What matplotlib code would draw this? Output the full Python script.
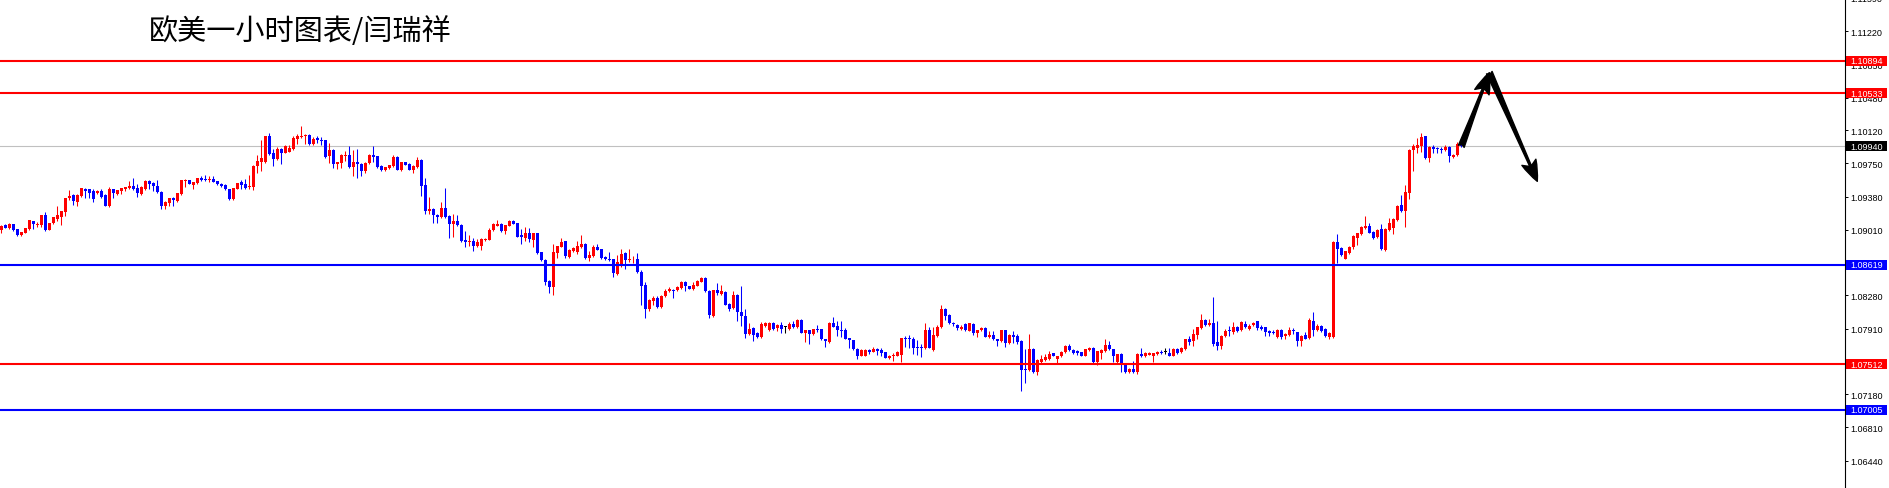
import matplotlib
matplotlib.use('Agg')
import matplotlib.pyplot as plt
import matplotlib.transforms as mtransforms
from matplotlib.patches import Rectangle
import numpy as np

title = '欧美一小时图表/闫瑞祥'

opens = [
1.0901,1.0906,1.0903,1.0907,1.0902,1.0895,1.0898,1.0902,1.0911,1.0906,
1.0906,1.0918,1.0901,1.0909,1.0913,1.0915,1.0921,1.0936,1.0940,1.0932,
1.0939,1.0947,1.0946,1.0944,1.0942,1.0944,1.0940,1.0927,1.0946,1.0941,
1.0944,1.0946,1.0948,1.0950,1.0948,1.0941,1.0946,1.0955,1.0953,1.0950,
1.0943,1.0927,1.0931,1.0937,1.0933,1.0941,1.0955,1.0957,1.0951,1.0953,
1.0959,1.0958,1.0957,1.0958,1.0955,1.0952,1.0951,1.0946,1.0935,1.0947,
1.0954,1.0952,1.0949,1.0949,1.0972,1.0977,1.0976,1.1005,1.0987,1.0980,
1.0991,1.0987,1.0988,1.0991,1.1002,1.1004,1.1005,1.1007,1.0997,1.1003,
1.1001,1.1001,1.0983,1.0990,1.0974,1.0975,1.0983,1.0984,1.0971,1.0976,
1.0974,1.0966,1.0975,1.0984,1.0983,1.0972,1.0968,1.0970,1.0972,1.0982,
1.0968,1.0976,1.0974,1.0968,1.0971,1.0979,1.0951,1.0922,1.0924,1.0918,
1.0915,1.0925,1.0916,1.0908,1.0911,1.0906,1.0890,1.0888,1.0889,1.0883,
1.0883,1.0890,1.0890,1.0901,1.0905,1.0908,1.0900,1.0905,1.0911,1.0909,
1.0895,1.0892,1.0897,1.0890,1.0898,1.0876,1.0867,1.0844,1.0837,1.0875,
1.0882,1.0889,1.0871,1.0878,1.0876,1.0882,1.0885,1.0870,1.0872,1.0882,
1.0880,1.0871,1.0868,1.0868,1.0852,1.0861,1.0875,1.0867,1.0868,1.0869,
1.0854,1.0840,1.0813,1.0822,1.0825,1.0815,1.0827,1.0833,1.0834,1.0834,
1.0836,1.0843,1.0838,1.0835,1.0839,1.0843,1.0847,1.0833,1.0805,1.0834,
1.0830,1.0832,1.0819,1.0814,1.0829,1.0809,1.0805,1.0785,1.0792,1.0786,
1.0782,1.0794,1.0790,1.0797,1.0792,1.0795,1.0793,1.0791,1.0796,1.0793,
1.0801,1.0786,1.0790,1.0785,1.0791,1.0791,1.0780,1.0776,1.0797,1.0794,
1.0790,1.0789,1.0781,1.0778,1.0768,1.0761,1.0761,1.0767,1.0765,1.0768,
1.0767,1.0765,1.0758,1.0760,1.0761,1.0762,1.0781,1.0780,1.0780,1.0771,
1.0771,1.0769,1.0790,1.0767,1.0783,1.0793,1.0813,1.0806,1.0797,1.0795,
1.0791,1.0796,1.0788,1.0796,1.0786,1.0789,1.0792,1.0782,1.0784,1.0780,
1.0777,1.0790,1.0775,1.0784,1.0783,1.0777,1.0746,1.0745,1.0768,1.0743,
1.0754,1.0756,1.0757,1.0764,1.0757,1.0760,1.0765,1.0772,1.0767,1.0766,
1.0765,1.0761,1.0767,1.0770,1.0754,1.0764,1.0766,1.0773,1.0768,1.0754,
1.0763,1.0752,1.0743,1.0746,1.0743,1.0763,1.0760,1.0762,1.0760,1.0763,
1.0765,1.0765,1.0764,1.0760,1.0768,1.0765,1.0768,1.0780,1.0777,1.0784,
1.0792,1.0801,1.0795,1.0797,1.0776,1.0772,1.0783,1.0789,1.0787,1.0793,
1.0789,1.0796,1.0791,1.0795,1.0799,1.0793,1.0793,1.0788,1.0787,1.0782,
1.0790,1.0783,1.0784,1.0790,1.0787,1.0777,1.0784,1.0781,1.0800,1.0789,
1.0794,1.0791,1.0782,1.0782,1.0887,1.0881,1.0869,1.0875,1.0882,1.0892,
1.0896,1.0903,1.0905,1.0899,1.0893,1.0902,1.0879,1.0901,1.0903,1.0912,
1.0929,1.0922,1.0942,1.0990,1.0992,1.0994,1.1005,1.0981,1.0993,1.0992,
1.0991,1.0990,1.0993,1.0982,1.0984,1.0997]

highs = [
1.0906,1.0907,1.0909,1.0908,1.0902,1.0899,1.0903,1.0912,1.0911,1.0910,
1.0918,1.0921,1.0909,1.0915,1.0927,1.0922,1.0937,1.0945,1.0941,1.0941,
1.0948,1.0948,1.0947,1.0947,1.0945,1.0947,1.0941,1.0949,1.0947,1.0945,
1.0948,1.0949,1.0955,1.0959,1.0952,1.0950,1.0957,1.0956,1.0954,1.0956,
1.0944,1.0933,1.0937,1.0938,1.0942,1.0956,1.0958,1.0957,1.0954,1.0959,
1.0961,1.0962,1.0961,1.0961,1.0955,1.0953,1.0952,1.0947,1.0948,1.0953,
1.0957,1.0958,1.0962,1.0973,1.0984,1.1001,1.1006,1.1009,1.0991,1.0993,
1.0992,1.0996,1.0996,1.1005,1.1008,1.1017,1.1008,1.1008,1.1004,1.1005,
1.1004,1.1001,1.0998,1.0991,1.0977,1.0985,1.0989,1.0994,1.0990,1.0991,
1.0975,1.0976,1.0985,1.0994,1.0983,1.0973,1.0971,1.0973,1.0984,1.0983,
1.0977,1.0977,1.0975,1.0973,1.0982,1.0980,1.0959,1.0938,1.0925,1.0919,
1.0932,1.0948,1.0917,1.0919,1.0917,1.0907,1.0900,1.0895,1.0892,1.0891,
1.0892,1.0892,1.0903,1.0909,1.0912,1.0909,1.0906,1.0912,1.0912,1.0909,
1.0902,1.0904,1.0903,1.0897,1.0898,1.0876,1.0869,1.0845,1.0885,1.0883,
1.0892,1.0889,1.0880,1.0882,1.0889,1.0895,1.0886,1.0878,1.0884,1.0885,
1.0880,1.0872,1.0876,1.0869,1.0873,1.0880,1.0876,1.0880,1.0872,1.0875,
1.0856,1.0843,1.0824,1.0827,1.0827,1.0828,1.0835,1.0837,1.0835,1.0838,
1.0844,1.0844,1.0839,1.0843,1.0845,1.0848,1.0848,1.0834,1.0834,1.0842,
1.0840,1.0833,1.0820,1.0833,1.0830,1.0839,1.0813,1.0797,1.0793,1.0787,
1.0798,1.0798,1.0798,1.0798,1.0796,1.0798,1.0794,1.0798,1.0799,1.0802,
1.0802,1.0790,1.0790,1.0791,1.0795,1.0791,1.0780,1.0798,1.0804,1.0799,
1.0800,1.0792,1.0781,1.0778,1.0769,1.0768,1.0768,1.0768,1.0771,1.0770,
1.0770,1.0765,1.0762,1.0764,1.0766,1.0781,1.0783,1.0784,1.0782,1.0778,
1.0774,1.0797,1.0793,1.0793,1.0795,1.0817,1.0814,1.0807,1.0798,1.0796,
1.0795,1.0797,1.0797,1.0797,1.0790,1.0793,1.0793,1.0788,1.0788,1.0780,
1.0790,1.0790,1.0785,1.0788,1.0785,1.0778,1.0768,1.0785,1.0770,1.0757,
1.0762,1.0763,1.0766,1.0764,1.0761,1.0766,1.0773,1.0774,1.0768,1.0767,
1.0765,1.0768,1.0771,1.0771,1.0766,1.0768,1.0779,1.0777,1.0768,1.0763,
1.0764,1.0752,1.0747,1.0755,1.0764,1.0770,1.0765,1.0765,1.0764,1.0766,
1.0767,1.0769,1.0769,1.0769,1.0770,1.0771,1.0780,1.0783,1.0791,1.0793,
1.0807,1.0802,1.0802,1.0826,1.0799,1.0784,1.0791,1.0794,1.0798,1.0794,
1.0799,1.0799,1.0796,1.0798,1.0800,1.0795,1.0793,1.0790,1.0790,1.0791,
1.0791,1.0786,1.0793,1.0792,1.0787,1.0784,1.0787,1.0803,1.0809,1.0796,
1.0795,1.0792,1.0787,1.0889,1.0896,1.0882,1.0878,1.0883,1.0895,1.0898,
1.0905,1.0916,1.0909,1.0900,1.0902,1.0908,1.0903,1.0914,1.0914,1.0929,
1.0940,1.0951,1.0991,1.0997,1.1003,1.1009,1.1006,1.0994,1.0996,1.0993,
1.0993,1.0996,1.0994,1.0985,1.0999,1.0998]

lows = [
1.0898,1.0903,1.0902,1.0900,1.0894,1.0894,1.0897,1.0901,1.0902,1.0904,
1.0904,1.0900,1.0901,1.0908,1.0911,1.0906,1.0916,1.0934,1.0929,1.0927,
1.0938,1.0937,1.0937,1.0932,1.0941,1.0936,1.0927,1.0926,1.0937,1.0940,
1.0941,1.0944,1.0946,1.0945,1.0938,1.0940,1.0945,1.0946,1.0944,1.0942,
1.0924,1.0924,1.0928,1.0928,1.0932,1.0940,1.0949,1.0952,1.0947,1.0952,
1.0955,1.0955,1.0954,1.0954,1.0951,1.0949,1.0945,1.0934,1.0934,1.0946,
1.0947,1.0947,1.0946,1.0945,1.0964,1.0967,1.0975,1.0984,1.0972,1.0979,
1.0974,1.0986,1.0988,1.0990,1.0997,1.1003,1.0997,1.0996,1.0996,1.0998,
1.0995,1.0981,1.0975,1.0970,1.0969,1.0970,1.0978,1.0970,1.0961,1.0959,
1.0961,1.0964,1.0974,1.0976,1.0970,1.0967,1.0967,1.0969,1.0971,1.0968,
1.0966,1.0973,1.0968,1.0964,1.0970,1.0939,1.0919,1.0919,1.0909,1.0909,
1.0914,1.0914,1.0892,1.0893,1.0905,1.0887,1.0882,1.0883,1.0878,1.0882,
1.0879,1.0889,1.0890,1.0900,1.0905,1.0899,1.0896,1.0905,1.0907,1.0893,
1.0885,1.0889,1.0887,1.0882,1.0874,1.0866,1.0840,1.0831,1.0828,1.0870,
1.0882,1.0870,1.0870,1.0876,1.0874,1.0881,1.0869,1.0866,1.0871,1.0879,
1.0869,1.0867,1.0866,1.0849,1.0851,1.0860,1.0857,1.0865,1.0864,1.0853,
1.0817,1.0803,1.0811,1.0817,1.0814,1.0814,1.0826,1.0832,1.0825,1.0833,
1.0835,1.0833,1.0835,1.0834,1.0839,1.0843,1.0832,1.0803,1.0804,1.0828,
1.0828,1.0817,1.0811,1.0813,1.0800,1.0794,1.0781,1.0784,1.0777,1.0781,
1.0781,1.0793,1.0788,1.0790,1.0788,1.0786,1.0786,1.0790,1.0792,1.0792,
1.0786,1.0776,1.0774,1.0784,1.0787,1.0778,1.0771,1.0775,1.0793,1.0783,
1.0782,1.0780,1.0770,1.0767,1.0757,1.0760,1.0760,1.0763,1.0765,1.0762,
1.0761,1.0758,1.0757,1.0755,1.0760,1.0754,1.0771,1.0770,1.0763,1.0762,
1.0759,1.0768,1.0769,1.0766,1.0782,1.0792,1.0801,1.0796,1.0794,1.0790,
1.0790,1.0788,1.0788,1.0784,1.0782,1.0788,1.0782,1.0781,1.0778,1.0772,
1.0776,1.0771,1.0774,1.0775,1.0774,1.0722,1.0730,1.0744,1.0742,1.0739,
1.0753,1.0755,1.0756,1.0760,1.0752,1.0759,1.0764,1.0766,1.0763,1.0762,
1.0760,1.0760,1.0766,1.0753,1.0750,1.0757,1.0765,1.0767,1.0754,1.0752,
1.0743,1.0742,1.0742,1.0742,1.0741,1.0759,1.0759,1.0762,1.0754,1.0762,
1.0763,1.0763,1.0760,1.0760,1.0763,1.0764,1.0767,1.0773,1.0772,1.0780,
1.0791,1.0794,1.0794,1.0772,1.0767,1.0768,1.0782,1.0783,1.0785,1.0787,
1.0788,1.0792,1.0790,1.0794,1.0790,1.0790,1.0783,1.0783,1.0785,1.0781,
1.0780,1.0780,1.0783,1.0785,1.0772,1.0772,1.0779,1.0780,1.0783,1.0788,
1.0787,1.0782,1.0779,1.0781,1.0864,1.0872,1.0868,1.0874,1.0880,1.0884,
1.0895,1.0902,1.0897,1.0891,1.0892,1.0879,1.0878,1.0900,1.0896,1.0911,
1.0921,1.0904,1.0935,1.0967,1.0987,1.0988,1.0980,1.0977,1.0987,1.0987,
1.0987,1.0989,1.0976,1.0981,1.0983,1.0993]

closes = [
1.0905,1.0903,1.0907,1.0901,1.0895,1.0899,1.0903,1.0912,1.0907,1.0908,
1.0918,1.0901,1.0909,1.0915,1.0917,1.0922,1.0936,1.0939,1.0933,1.0940,
1.0948,1.0944,1.0942,1.0935,1.0944,1.0938,1.0928,1.0946,1.0942,1.0945,
1.0948,1.0949,1.0950,1.0946,1.0942,1.0949,1.0955,1.0952,1.0950,1.0943,
1.0927,1.0932,1.0937,1.0934,1.0942,1.0956,1.0957,1.0952,1.0954,1.0959,
1.0956,1.0957,1.0958,1.0954,1.0952,1.0950,1.0946,1.0935,1.0948,1.0953,
1.0951,1.0948,1.0950,1.0972,1.0978,1.0981,1.1005,1.0985,1.0980,1.0991,
1.0987,1.0994,1.0992,1.1003,1.1006,1.1006,1.1007,1.0997,1.1002,1.1001,
1.1000,1.0982,1.0990,1.0974,1.0977,1.0984,1.0984,1.0971,1.0976,1.0974,
1.0967,1.0975,1.0984,1.0982,1.0971,1.0968,1.0971,1.0973,1.0982,1.0968,
1.0977,1.0973,1.0968,1.0972,1.0979,1.0950,1.0922,1.0924,1.0917,1.0915,
1.0925,1.0915,1.0907,1.0911,1.0906,1.0889,1.0888,1.0889,1.0883,1.0887,
1.0891,1.0891,1.0901,1.0907,1.0908,1.0900,1.0906,1.0911,1.0907,1.0893,
1.0893,1.0898,1.0891,1.0897,1.0875,1.0867,1.0843,1.0837,1.0876,1.0883,
1.0888,1.0872,1.0879,1.0881,1.0883,1.0885,1.0870,1.0873,1.0882,1.0879,
1.0870,1.0868,1.0867,1.0853,1.0865,1.0874,1.0867,1.0869,1.0869,1.0854,
1.0839,1.0813,1.0823,1.0825,1.0815,1.0827,1.0833,1.0835,1.0833,1.0837,
1.0843,1.0838,1.0835,1.0840,1.0844,1.0847,1.0833,1.0806,1.0834,1.0831,
1.0833,1.0817,1.0813,1.0829,1.0809,1.0805,1.0785,1.0791,1.0784,1.0782,
1.0796,1.0797,1.0797,1.0791,1.0795,1.0791,1.0793,1.0796,1.0793,1.0801,
1.0786,1.0790,1.0785,1.0791,1.0790,1.0779,1.0777,1.0797,1.0793,1.0789,
1.0788,1.0780,1.0778,1.0768,1.0761,1.0767,1.0767,1.0765,1.0768,1.0766,
1.0764,1.0758,1.0761,1.0762,1.0765,1.0781,1.0779,1.0779,1.0770,1.0770,
1.0769,1.0790,1.0770,1.0784,1.0793,1.0813,1.0805,1.0797,1.0796,1.0792,
1.0793,1.0789,1.0797,1.0786,1.0790,1.0792,1.0782,1.0784,1.0779,1.0777,
1.0790,1.0775,1.0784,1.0782,1.0776,1.0745,1.0745,1.0768,1.0743,1.0756,
1.0757,1.0759,1.0763,1.0761,1.0760,1.0765,1.0772,1.0767,1.0764,1.0764,
1.0761,1.0768,1.0770,1.0754,1.0766,1.0767,1.0773,1.0768,1.0760,1.0763,
1.0751,1.0743,1.0746,1.0743,1.0763,1.0760,1.0764,1.0764,1.0764,1.0765,
1.0764,1.0765,1.0761,1.0768,1.0764,1.0770,1.0780,1.0776,1.0785,1.0793,
1.0801,1.0795,1.0797,1.0774,1.0772,1.0783,1.0788,1.0788,1.0793,1.0788,
1.0798,1.0793,1.0794,1.0797,1.0792,1.0791,1.0787,1.0786,1.0786,1.0790,
1.0782,1.0785,1.0790,1.0788,1.0777,1.0783,1.0780,1.0801,1.0790,1.0794,
1.0788,1.0783,1.0786,1.0887,1.0880,1.0873,1.0877,1.0882,1.0894,1.0897,
1.0904,1.0905,1.0898,1.0892,1.0901,1.0880,1.0902,1.0909,1.0913,1.0928,
1.0922,1.0943,1.0990,1.0994,1.0995,1.1004,1.0981,1.0993,1.0991,1.0991,
1.0990,1.0993,1.0983,1.0984,1.0997,1.0994]

level_prices = [1.10894, 1.10533, 1.08619, 1.07512, 1.07005]
level_colors = ['#ff0000', '#ff0000', '#0000ff', '#ff0000', '#0000ff']
current_price = 1.09940
tick_values = [1.06440, 1.06810, 1.07180, 1.07540, 1.07910, 1.08280, 1.08640,
               1.09010, 1.09380, 1.09750, 1.10120, 1.10480, 1.10850, 1.11220]
top_tick = 1.11590
# forecast arrows: (bar index, price)
arrow_points = [(365, 1.0994), (372, 1.1076), (384, 1.0955)]

W, H = 1889, 489
AXW = 1845
fig = plt.figure(figsize=(W / 100, H / 100), dpi=100)
ax = fig.add_axes([0, 0, AXW / W, 1])

o = np.array(opens); h = np.array(highs); l = np.array(lows); c = np.array(closes)
x = np.arange(len(o))
cols = np.where(c > o, '#ff0000', np.where(c < o, '#0000ff', '#000000'))

ax.vlines(x, l, h, colors=cols, linewidth=0.75, zorder=2)
body_low = np.minimum(o, c)
body_h = np.maximum(np.abs(c - o), 0.00011)
ax.bar(x, body_h, bottom=body_low, width=0.75, color=cols, linewidth=0, zorder=2)

ax.axhline(current_price, color='#c0c0c0', lw=0.8, zorder=1)
for p, col in zip(level_prices, level_colors):
    ax.axhline(p, color=col, lw=1.5, zorder=3)

ax.set_xlim(-0.325, (AXW - 1.3) / 4)
ax.set_ylim(1.06136, 1.11580)

for s in ['left', 'top', 'bottom']:
    ax.spines[s].set_visible(False)
ax.spines['right'].set_color('black')
ax.spines['right'].set_linewidth(0.8)
ax.set_xticks([])
ax.yaxis.tick_right()
ax.set_yticks(tick_values)
ax.set_yticklabels([f'{v:.5f}' for v in tick_values])
ax.tick_params(axis='y', length=2.5, width=0.7, pad=1.5, labelsize=6.5,
               colors='black')
for lab in ax.get_yticklabels():
    lab.set_fontfamily('Liberation Sans')

trans = mtransforms.blended_transform_factory(ax.transAxes, ax.transData)
ax.text(1 + 5.5 / AXW, top_tick, f'{top_tick:.5f}', transform=trans,
        fontsize=6.5, family='Liberation Sans', va='center', ha='left',
        clip_on=False)

bw = 41 / AXW
bh = 0.00110
for p, col in list(zip(level_prices, level_colors)) + [(current_price, '#000000')]:
    ax.add_patch(Rectangle((1 + 1 / AXW, p - bh / 2), bw, bh, transform=trans,
                           facecolor=col, edgecolor='none', clip_on=False, zorder=5))
    ax.text(1 + 1 / AXW + bw / 2, p, f'{p:.5f}', transform=trans, color='white',
            fontsize=6.5, family='Liberation Sans', va='center', ha='center',
            clip_on=False, zorder=6)

for a, b in zip(arrow_points[:-1], arrow_points[1:]):
    ax.annotate('', xy=b, xytext=a,
                arrowprops=dict(arrowstyle='fancy,head_length=0.75,head_width=0.55,tail_width=0.22',
                                color='black', shrinkA=0, shrinkB=0,
                                mutation_scale=20), zorder=7)

fig.text(149 / W, 1 - 32 / H, title, fontsize=21,
         family=['Noto Sans CJK SC', 'DejaVu Sans'], va='center', ha='left',
         color='black')

fig.savefig('out.png', dpi=100)
